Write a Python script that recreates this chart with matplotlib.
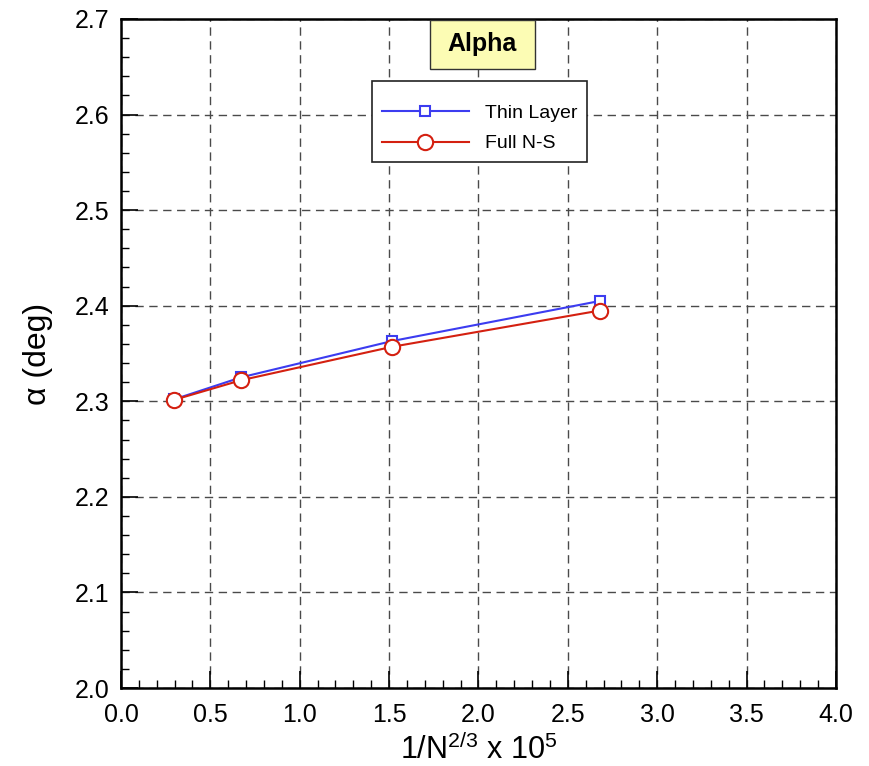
import matplotlib
matplotlib.use("Agg")
import matplotlib.pyplot as plt
from matplotlib.ticker import MultipleLocator, FormatStrFormatter
from matplotlib.patches import Rectangle

plt.rcParams['font.family'] = ['Liberation Sans', 'DejaVu Sans']
plt.rcParams['mathtext.fontset'] = 'custom'
plt.rcParams['mathtext.rm'] = 'Liberation Sans'
plt.rcParams['mathtext.it'] = 'Liberation Sans:italic'

# data
x_grid = [0.297, 0.671, 1.516, 2.680]
thin_layer = [2.302, 2.325, 2.363, 2.405]
full_ns = [2.3015, 2.322, 2.357, 2.395]

fig = plt.figure(figsize=(8.69, 7.66), dpi=100)
ax = fig.add_axes([0.1392, 0.1018, 0.8228, 0.8734])

ax.plot(x_grid, thin_layer, color='#3c3cf0', linewidth=1.5, marker='s', markersize=7,
        markerfacecolor='white', markeredgecolor='#3c3cf0', markeredgewidth=1.5, label='Thin Layer')
ax.plot(x_grid, full_ns, color='#d42010', linewidth=1.5, marker='o', markersize=11,
        markerfacecolor='white', markeredgecolor='#d42010', markeredgewidth=1.5, label='Full N-S')

ax.set_xlim(0, 4)
ax.set_ylim(2.0, 2.7)
ax.xaxis.set_major_locator(MultipleLocator(0.5))
ax.xaxis.set_minor_locator(MultipleLocator(0.1))
ax.yaxis.set_major_locator(MultipleLocator(0.1))
ax.yaxis.set_minor_locator(MultipleLocator(0.02))
ax.xaxis.set_major_formatter(FormatStrFormatter('%.1f'))
ax.yaxis.set_major_formatter(FormatStrFormatter('%.1f'))
ax.tick_params(direction='in', length=12, width=1.2, labelsize=18)
ax.tick_params(axis='x', pad=11)
ax.tick_params(axis='y', pad=8)
ax.tick_params(which='minor', direction='in', length=6, width=1)

ax.grid(True, which='major', linestyle=(0, (6, 4)), color='#4a4a4a', linewidth=1)
ax.set_axisbelow(True)
for s in ax.spines.values():
    s.set_linewidth(1.8)

ax.set_xlabel(r'1/N$^{\mathregular{2/3}}$ x 10$^{\mathregular{5}}$', fontsize=22, labelpad=5)
ax.set_ylabel('α (deg)', fontsize=23, labelpad=16)

# title box
ax.add_patch(Rectangle((0.432, 0.925), 0.147, 0.0732, transform=ax.transAxes,
                       facecolor='#fcfcb4', edgecolor='#333333', linewidth=1, zorder=4))
ax.text(0.505, 0.963, 'Alpha', transform=ax.transAxes, ha='center', va='center',
        fontsize=18, fontweight='bold', zorder=5)

leg = ax.legend(loc='upper left', bbox_to_anchor=(0.351, 0.907), fontsize=14, frameon=True,
                fancybox=False, edgecolor='#222222', framealpha=1, handlelength=4.5,
                borderpad=0.5, borderaxespad=0, labelspacing=0.65, handletextpad=0.8,
                title=' ', title_fontsize=1)
leg.get_frame().set_linewidth(1.2)

plt.savefig('out.png', dpi=100)
